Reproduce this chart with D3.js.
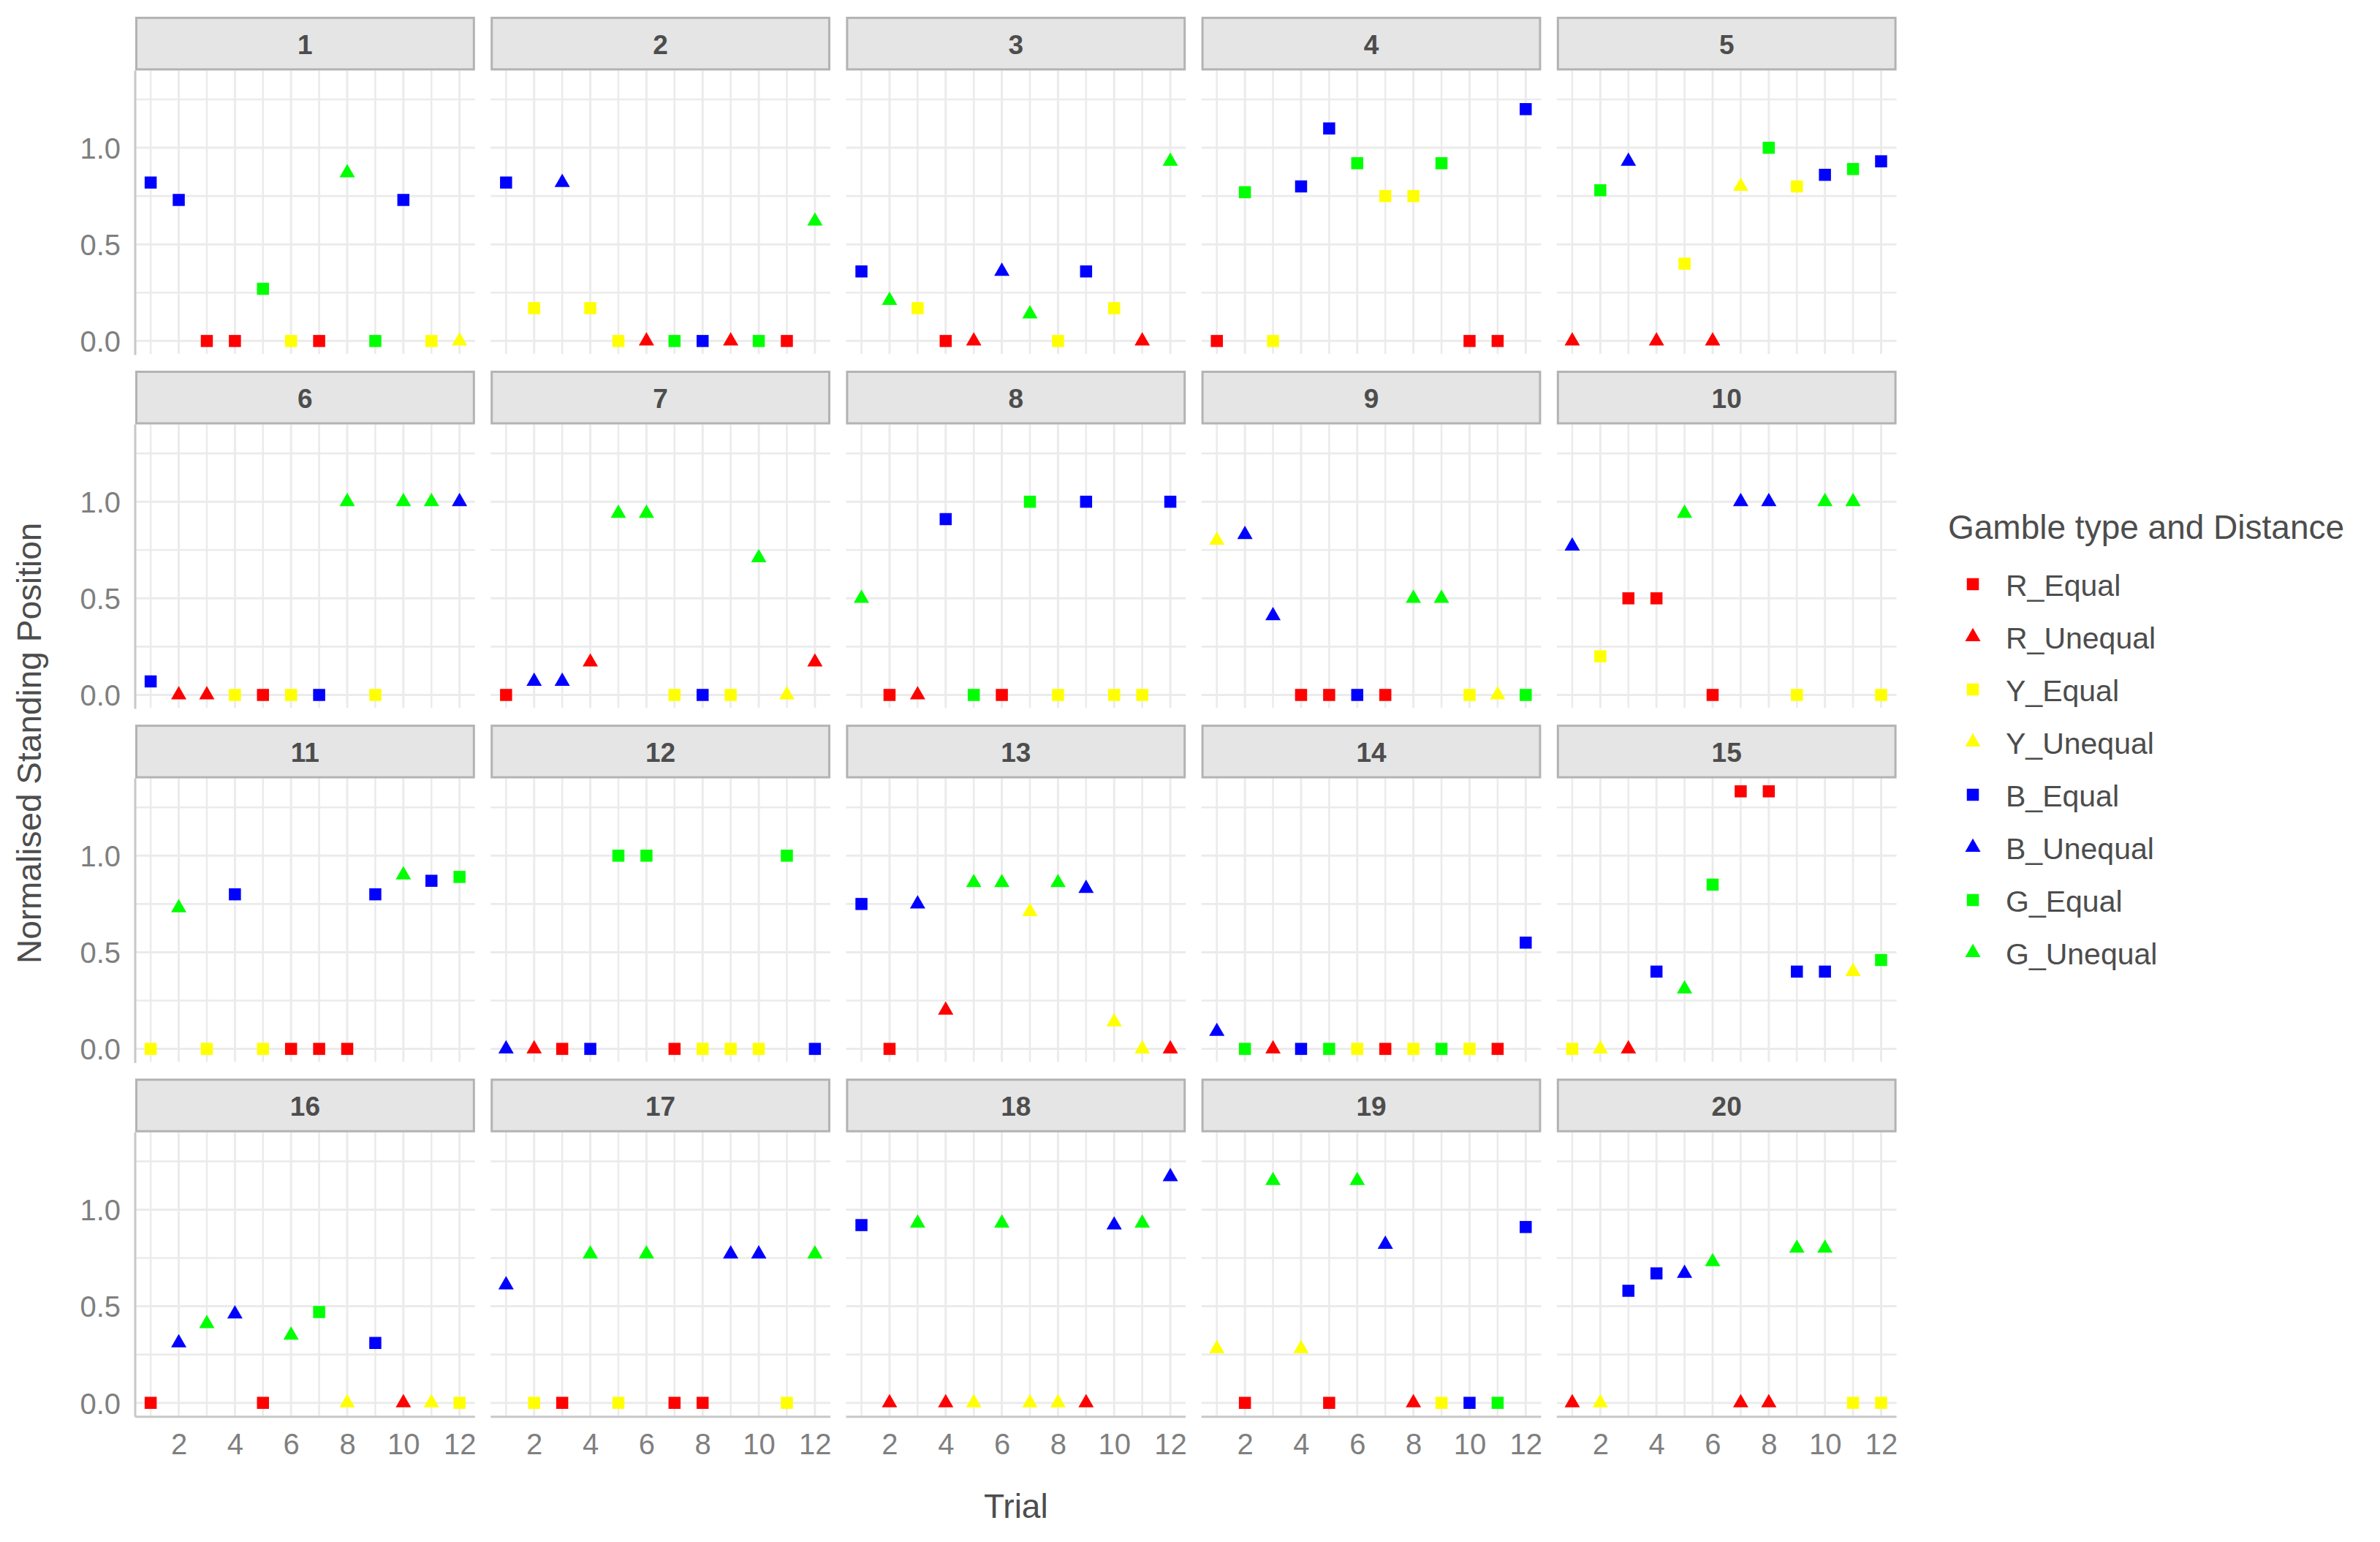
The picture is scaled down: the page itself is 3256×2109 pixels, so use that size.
<!DOCTYPE html>
<html>
<head>
<meta charset="utf-8">
<script src="https://cdn.jsdelivr.net/npm/d3@7"></script>
<style>
  html, body { margin: 0; padding: 0; background: #ffffff; }
  svg { display: block; font-family: "Liberation Sans", Arial, sans-serif; }
</style>
</head>
<body>
<svg id="chart" width="3256" height="2109"></svg>
<script>
// ---------------- DATA ----------------
const participants = ["1","2","3","4","5","6","7","8","9","10","11","12","13","14","15","16","17","18","19","20"];
const trials = [1,2,3,4,5,6,7,8,9,10,11,12];
const categories = ["R_Equal","R_Unequal","Y_Equal","Y_Unequal","B_Equal","B_Unequal","G_Equal","G_Unequal"];
const categoryCodes = ["RE","RU","YE","YU","BE","BU","GE","GU"];
const categoryColors = ["#FF0000","#FF0000","#FFFF00","#FFFF00","#0000FF","#0000FF","#00FF00","#00FF00"];
const categoryShapes = ["square","triangle","square","triangle","square","triangle","square","triangle"];

const xMajorTicks = [2,4,6,8,10,12];
const xMinorTicks = [1,3,5,7,9,11];
const yMajorTicks = [0,0.5,1.0];
const yMinorTicks = [0.25,0.75,1.25];

// trial types per participant (codes above)
const types1  = ["BE","BE","RE","RE","GE","YE","RE","GU","GE","BE","YE","YU"];
const types2  = ["BE","YE","BU","YE","YE","RU","GE","BE","RU","GE","RE","GU"];
const types3  = ["BE","GU","YE","RE","RU","BU","GU","YE","BE","YE","RU","GU"];
const types4  = ["RE","GE","YE","BE","BE","GE","YE","YE","GE","RE","RE","BE"];
const types5  = ["RU","GE","BU","RU","YE","RU","YU","GE","YE","BE","GE","BE"];
const types6  = ["BE","RU","RU","YE","RE","YE","BE","GU","YE","GU","GU","BU"];
const types7  = ["RE","BU","BU","RU","GU","GU","YE","BE","YE","GU","YU","RU"];
const types8  = ["GU","RE","RU","BE","GE","RE","GE","YE","BE","YE","YE","BE"];
const types9  = ["YU","BU","BU","RE","RE","BE","RE","GU","GU","YE","YU","GE"];
const types10 = ["BU","YE","RE","RE","GU","RE","BU","BU","YE","GU","GU","YE"];
const types11 = ["YE","GU","YE","BE","YE","RE","RE","RE","BE","GU","BE","GE"];
const types12 = ["BU","RU","RE","BE","GE","GE","RE","YE","YE","YE","GE","BE"];
const types13 = ["BE","RE","BU","RU","GU","GU","YU","GU","BU","YU","YU","RU"];
const types14 = ["BU","GE","RU","BE","GE","YE","RE","YE","GE","YE","RE","BE"];
const types15 = ["YE","YU","RU","BE","GU","GE","RE","RE","BE","BE","YU","GE"];
const types16 = ["RE","BU","GU","BU","RE","GU","GE","YU","BE","RU","YU","YE"];
const types17 = ["BU","YE","RE","GU","YE","GU","RE","RE","BU","BU","YE","GU"];
const types18 = ["BE","RU","GU","RU","YU","GU","YU","YU","RU","BU","GU","BU"];
const types19 = ["YU","RE","GU","YU","RE","GU","BU","RU","YE","BE","GE","BE"];
const types20 = ["RU","YU","BE","BE","BU","GU","RU","RU","GU","GU","YE","YE"];

// normalised standing position per participant
const values1  = [0.82,0.73,0,0,0.27,0,0,0.87,0,0.73,0,0];
const values2  = [0.82,0.17,0.82,0.17,0,0,0,0,0,0,0,0.62];
const values3  = [0.36,0.21,0.17,0,0,0.36,0.14,0,0.36,0.17,0,0.93];
const values4  = [0,0.77,0,0.80,1.10,0.92,0.75,0.75,0.92,0,0,1.20];
const values5  = [0,0.78,0.93,0,0.40,0,0.80,1.00,0.80,0.86,0.89,0.93];
const values6  = [0.07,0,0,0,0,0,0,1,0,1,1,1];
const values7  = [0,0.07,0.07,0.17,0.94,0.94,0,0,0,0.71,0,0.17];
const values8  = [0.5,0,0,0.91,0,0,1,0,1,0,0,1];
const values9  = [0.80,0.83,0.41,0,0,0,0,0.5,0.5,0,0,0];
const values10 = [0.77,0.20,0.5,0.5,0.94,0,1,1,0,1,1,0];
const values11 = [0,0.73,0,0.80,0,0,0,0,0.80,0.90,0.87,0.89];
const values12 = [0,0,0,0,1,1,0,0,0,0,1,0];
const values13 = [0.75,0,0.75,0.20,0.86,0.86,0.71,0.86,0.83,0.14,0,0];
const values14 = [0.09,0,0,0,0,0,0,0,0,0,0,0.55];
const values15 = [0,0,0,0.40,0.31,0.85,1.333,1.333,0.40,0.40,0.40,0.46];
const values16 = [0,0.31,0.41,0.46,0,0.35,0.47,0,0.31,0,0,0];
const values17 = [0.61,0,0,0.77,0,0.77,0,0,0.77,0.77,0,0.77];
const values18 = [0.92,0,0.93,0,0,0.93,0,0,0,0.92,0.93,1.17];
const values19 = [0.28,0,1.15,0.28,0,1.15,0.82,0,0,0,0,0.91];
const values20 = [0,0,0.58,0.67,0.67,0.73,0,0,0.80,0.80,0,0];

const allTypes = [types1,types2,types3,types4,types5,types6,types7,types8,types9,types10,
                  types11,types12,types13,types14,types15,types16,types17,types18,types19,types20];
const allValues = [values1,values2,values3,values4,values5,values6,values7,values8,values9,values10,
                   values11,values12,values13,values14,values15,values16,values17,values18,values19,values20];

const xTitle = "Trial";
const yTitle = "Normalised Standing Position";
const legendTitle = "Gamble type and Distance";

// ---------------- LAYOUT ----------------
const nCols = 5, nRows = 4;
const panelLeft0 = 185, panelW = 464.8, colStep = 486.2;
const panelTop0 = 96.4, panelH = 387.6, rowStep = 484.1;
const stripH = 73.5;
const gridColor = "#EBEBEB";
const textGrey = "#7F7F7F";
const darkGrey = "#4D4D4D";

const svg = d3.select("#chart");

const x = d3.scaleLinear().domain([0.45, 12.55]).range([0, panelW]);
const y = d3.scaleLinear().domain([-0.0667, 1.4]).range([panelH, 0]);

const color = d3.scaleOrdinal().domain(categoryCodes).range(categoryColors);
const shapeOf = d3.scaleOrdinal().domain(categoryCodes).range(categoryShapes);
const labelOf = d3.scaleOrdinal().domain(categoryCodes).range(categories);

const squareSym = d3.symbol().type(d3.symbolSquare).size(16.5 * 16.5);
const triSym = d3.symbol().type(d3.symbolTriangle).size(191);
function symPath(code) { return shapeOf(code) === "square" ? squareSym() : triSym(); }

participants.forEach((pid, i) => {
  const col = i % nCols, row = Math.floor(i / nCols);
  const px = panelLeft0 + col * colStep;
  const py = panelTop0 + row * rowStep;
  const g = svg.append("g").attr("transform", `translate(${px},${py})`);

  // grid
  g.selectAll("line.ymin").data(yMinorTicks).enter().append("line")
    .attr("x1", 0).attr("x2", panelW).attr("y1", d => y(d)).attr("y2", d => y(d))
    .attr("stroke", gridColor).attr("stroke-width", 2.6);
  g.selectAll("line.xmin").data(xMinorTicks).enter().append("line")
    .attr("y1", 0).attr("y2", panelH).attr("x1", d => x(d)).attr("x2", d => x(d))
    .attr("stroke", gridColor).attr("stroke-width", 2.6);
  g.selectAll("line.ymaj").data(yMajorTicks).enter().append("line")
    .attr("x1", 0).attr("x2", panelW).attr("y1", d => y(d)).attr("y2", d => y(d))
    .attr("stroke", gridColor).attr("stroke-width", 3);
  g.selectAll("line.xmaj").data(xMajorTicks).enter().append("line")
    .attr("y1", 0).attr("y2", panelH).attr("x1", d => x(d)).attr("x2", d => x(d))
    .attr("stroke", gridColor).attr("stroke-width", 3);

  // strip
  const strip = svg.append("g").attr("transform", `translate(${px},${py - stripH})`);
  strip.append("rect").attr("x", 1.5).attr("y", 1.5).attr("width", panelW - 3).attr("height", stripH - 3)
    .attr("fill", "#E5E5E5").attr("stroke", "#B3B3B3").attr("stroke-width", 3);
  strip.append("text").attr("x", panelW / 2).attr("y", stripH / 2 + 14)
    .attr("text-anchor", "middle").attr("font-size", 37).attr("font-weight", "bold")
    .attr("fill", darkGrey).text(pid);

  // axes (outer only)
  if (col === 0) {
    const ya = g.append("g").call(d3.axisLeft(y).tickValues(yMajorTicks).tickSize(0).tickPadding(20).tickFormat(d3.format(".1f")));
    ya.select(".domain").remove();
    ya.selectAll("text").attr("font-size", 40).attr("fill", textGrey)
      .attr("font-family", "Liberation Sans, Arial, sans-serif").attr("dy", "0.36em");
    g.append("line").attr("x1", 0).attr("x2", 0).attr("y1", 0).attr("y2", panelH + 1.5)
      .attr("stroke", "#C8C8C8").attr("stroke-width", 3);
  }
  if (row === nRows - 1) {
    const xa = g.append("g").attr("transform", `translate(0,${panelH})`)
      .call(d3.axisBottom(x).tickValues(xMajorTicks).tickSize(0).tickPadding(24).tickFormat(d3.format("d")));
    xa.select(".domain").remove();
    xa.selectAll("text").attr("font-size", 40).attr("fill", textGrey)
      .attr("font-family", "Liberation Sans, Arial, sans-serif").attr("dy", "0.71em");
    g.append("line").attr("x1", 0).attr("x2", panelW).attr("y1", panelH + 1.5).attr("y2", panelH + 1.5)
      .attr("stroke", "#C8C8C8").attr("stroke-width", 3);
  }

  // points
  const pts = trials.map((t, k) => ({ trial: t, code: allTypes[i][k], value: allValues[i][k] }));
  g.selectAll("path.pt").data(pts).enter().append("path")
    .attr("class", "pt")
    .attr("transform", d => `translate(${x(d.trial)},${y(d.value)})`)
    .attr("d", d => symPath(d.code))
    .attr("fill", d => color(d.code));
});

// axis titles
svg.append("text").attr("x", (panelLeft0 + panelLeft0 + 4 * colStep + panelW) / 2).attr("y", 2076)
  .attr("text-anchor", "middle").attr("font-size", 46).attr("fill", darkGrey).text(xTitle);
svg.append("text")
  .attr("transform", `translate(56,${(panelTop0 + panelTop0 + 3 * rowStep + panelH) / 2}) rotate(-90)`)
  .attr("text-anchor", "middle").attr("font-size", 46).attr("fill", darkGrey).text(yTitle);

// legend
const legend = svg.append("g");
legend.append("text").attr("x", 2665).attr("y", 737).attr("font-size", 46).attr("fill", darkGrey).text(legendTitle);
const items = legend.selectAll("g.item").data(categoryCodes).enter().append("g")
  .attr("transform", (d, k) => `translate(2699,${799 + k * 72})`);
items.append("path").attr("d", d => symPath(d)).attr("fill", d => color(d));
items.append("text").attr("x", 45).attr("y", 16).attr("font-size", 41).attr("fill", darkGrey)
  .text(d => labelOf(d));
</script>
</body>
</html>
